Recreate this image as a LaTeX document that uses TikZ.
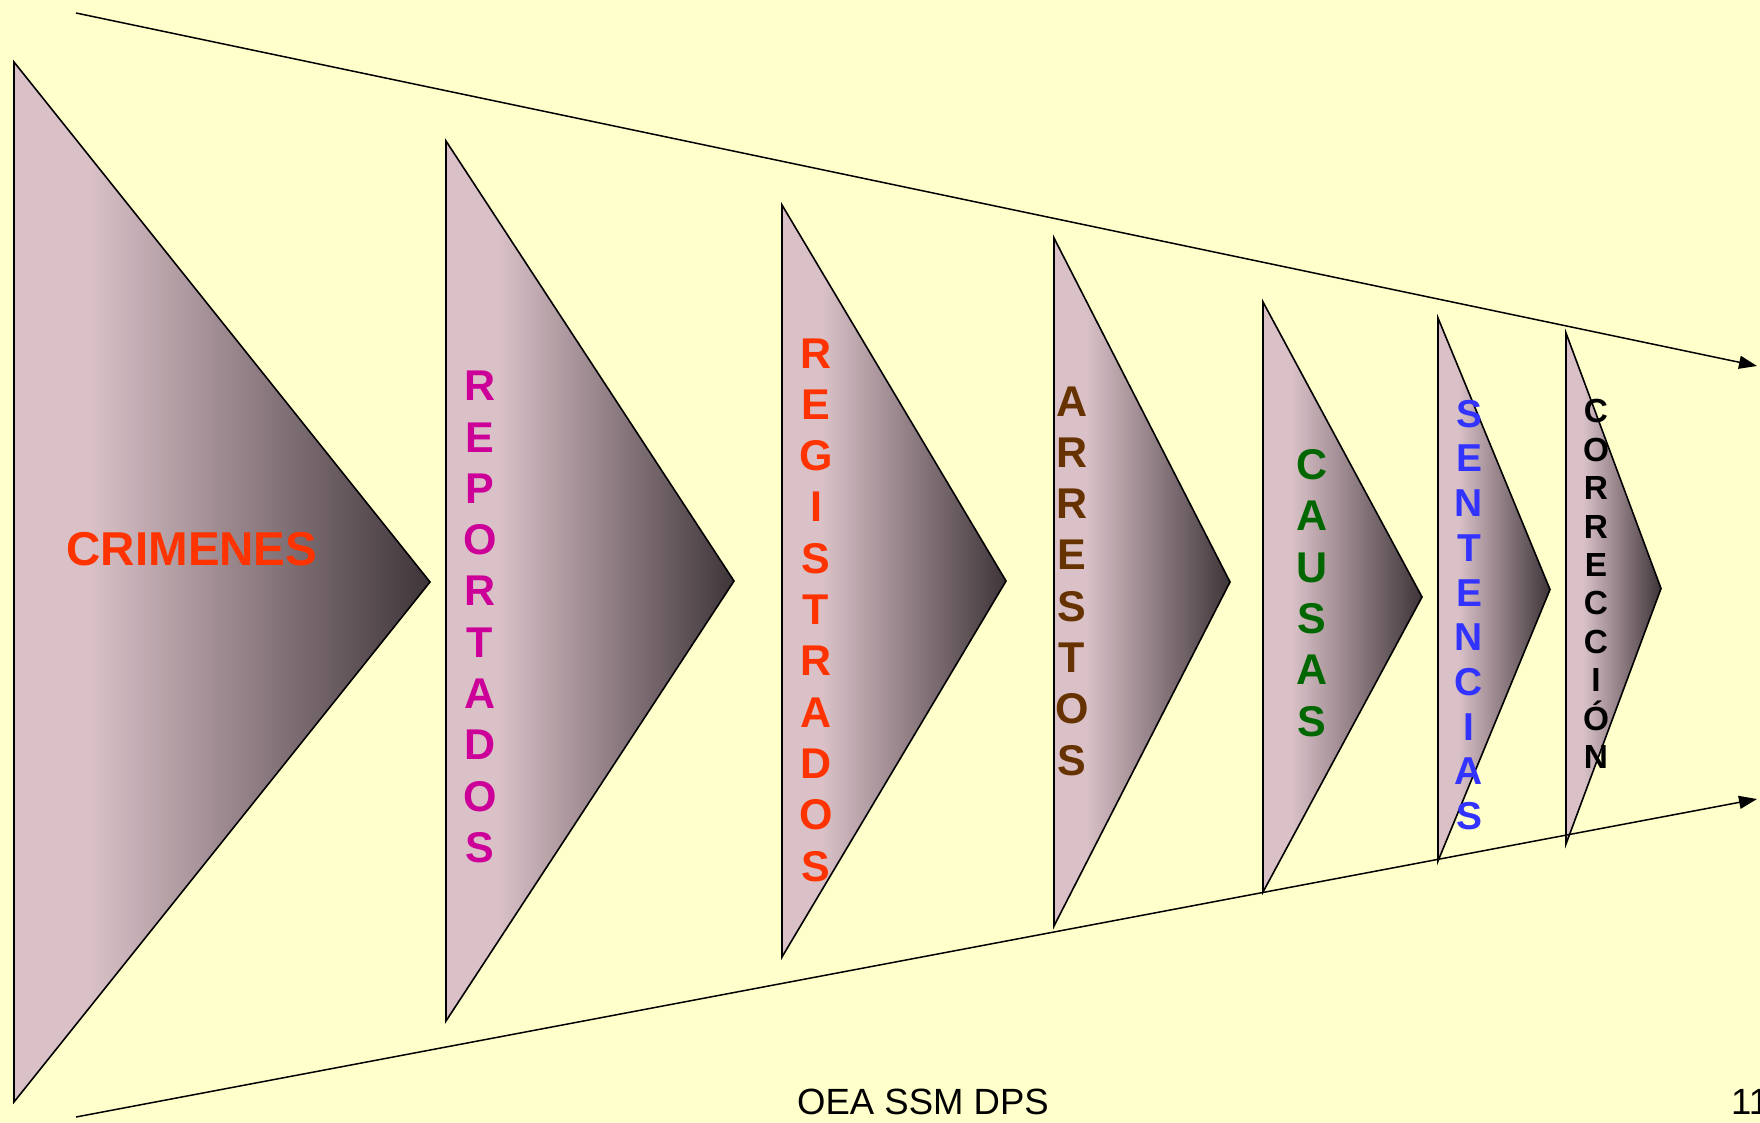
\documentclass[tikz,border=0pt]{standalone}
\usepackage{fontspec}
\setmainfont{Liberation Sans}
\usetikzlibrary{arrows.meta}
\definecolor{fondo}{HTML}{FFFFCC}
\definecolor{rosa}{RGB}{218,193,200}
\definecolor{oscuro}{RGB}{62,53,57}
\definecolor{rojo}{HTML}{FF3300}
\definecolor{magenta}{HTML}{CC0099}
\definecolor{cafe}{HTML}{663300}
\definecolor{verde}{HTML}{006600}
\definecolor{azul}{HTML}{3333FF}
\pgfdeclarehorizontalshading{embudo}{100bp}{color(0bp)=(rosa); color(34bp)=(rosa); color(75bp)=(oscuro); color(100bp)=(oscuro)}
\tikzset{
    triangulo/.style = {draw=black, line width=1.6pt, shading=embudo},
    letras/.style = {font=\bfseries\fontsize{43}{51.3}\selectfont, align=center, inner sep=0pt},
    flecha/.style = {line width=1.5pt, -{Triangle[length=18pt,width=13pt]}},
    pie/.style = {font=\fontsize{36.5}{40}\selectfont, inner sep=0pt, anchor=base west},
}

\begin{document}
\begin{tikzpicture}[x=1pt,y=-1pt]
\useasboundingbox (0,0) rectangle (1760,1123);
\fill[fondo] (0,0) rectangle (1760,1123);

% embudo de triangulos
\foreach \l/\t/\b/\p in {14/62/1102/430, 446/141/1021/734, 782/205/957/1006, 1054/238/926/1230, 1263/302/892/1422, 1438/318/861/1550, 1566/333/844/1661}
    \draw[triangulo] (\l,\t) -- (\p,{(\t+\b)/2}) -- (\l,\b) -- cycle;

% flechas
\coordinate (arriba-ini) at (76,13);
\coordinate (arriba-fin) at (1757,366);
\coordinate (abajo-ini) at (76,1117);
\coordinate (abajo-fin) at (1757,799);
\draw[flecha] (arriba-ini) -- (arriba-fin);
\draw[flecha] (abajo-ini) -- (abajo-fin);

% textos
\node[letras, font=\bfseries\fontsize{47.5}{52}\selectfont, text=rojo] (crimenes) at (192,549) {CRIMENES};
\node[letras, text=magenta] (reportados) at (480,617) {R\\E\\P\\O\\R\\T\\A\\D\\O\\S};
\node[letras, text=rojo] (registrados) at (816,610) {R\\E\\G\\I\\S\\T\\R\\A\\D\\O\\S};
\node[letras, text=cafe] (arrestos) at (1072,581) {A\\R\\R\\E\\S\\T\\O\\S};
\node[letras, text=verde] (causas) at (1312,593) {C\\A\\U\\S\\A\\S};
\node[letras, font=\bfseries\fontsize{38.9}{44.7}\selectfont, text=azul] (sentencias) at (1469,615) {S\\E\\N\\T\\E\\N\\C\\I\\A\\S};
\node[letras, font=\bfseries\fontsize{33.4}{38.4}\selectfont, text=black] (correccion) at (1596,584) {C\\O\\R\\R\\E\\C\\C\\I\\Ó\\N};

\node[pie] (oea) at (797,1114) {OEA SSM DPS};
\node[pie] (pagina) at (1731,1114) {11};
\end{tikzpicture}
\end{document}
